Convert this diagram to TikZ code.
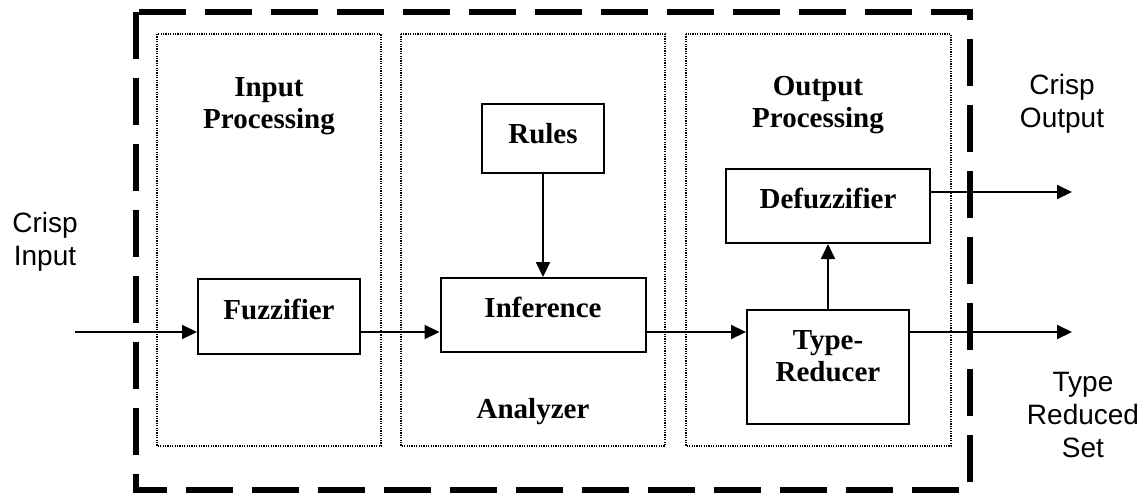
\documentclass[tikz,border=0pt]{standalone}
\usepackage{fontspec}
\setmainfont{Liberation Serif}
\newfontfamily\arialfont{Liberation Sans}
\usetikzlibrary{arrows.meta}
\begin{document}
\begin{tikzpicture}[x=1pt, y=-1pt]
        % Define styles for shapes
        \tikzstyle{block} = [draw, line width=2pt, inner sep=0pt, anchor=north, font=\bfseries\fontsize{29pt}{32pt}\selectfont, text height=39pt, text depth=35pt]
        \tikzstyle{stage} = [draw, line width=1.3pt, dash pattern=on 1.2pt off 1.2pt]
        \tikzstyle{heading} = [anchor=base, align=center, font=\bfseries\fontsize{29pt}{32pt}\selectfont]
        \tikzstyle{iolabel} = [anchor=base, align=center, font=\arialfont\fontsize{28pt}{33pt}\selectfont]
        \tikzstyle{flow} = [line width=2pt, -{Triangle[length=15pt, width=14pt]}]

        \useasboundingbox (0,0) rectangle (1148,493);

        % Outer frame
        \draw[line width=5.5pt, dash pattern=on 47pt off 19pt] (136,12) rectangle (970,490);

        % Processing stages
        \draw[stage] (157,34) rectangle (381,446);
        \draw[stage] (401,34) rectangle (665,446);
        \draw[stage] (686,34) rectangle (951,446);

        % Draw shapes
        \node[block, minimum width=162pt, text height=40pt] (fuzz) at (279,278) {Fuzzifier};
        \node[block, minimum width=122pt, text depth=30pt] (rules) at (543,103) {Rules};
        \node[block, minimum width=205pt] (infer) at (543,277) {Inference};
        \node[block, minimum width=204pt] (defuzz) at (828,168) {Defuzzifier};
        \node[block, minimum width=162pt, align=center, text height=71pt, text depth=43pt] (reducer) at (828,309) {Type-\\Reducer};

        % Labels (base = last line)
        \node[heading] (inlabel) at (269,128) {Input\\Processing};
        \node[heading] (analyzer) at (533,418) {Analyzer};
        \node[heading] (outlabel) at (818,127) {Output\\Processing};
        \node[iolabel] (crispin) at (45,265) {Crisp\\Input};
        \node[iolabel] (crispout) at (1062,127) {Crisp\\Output};
        \node[iolabel] (reduced) at (1083,457) {Type\\Reduced\\Set};

        % Connectors
        \coordinate (src) at (75,332);
        \coordinate (yout) at (1072,192);
        \coordinate (trout) at (1072,332);
        \draw[flow] (src) -- (src -| fuzz.west);
        \draw[flow] (fuzz.east |- src) -- (infer.west |- src);
        \draw[flow] (rules.south) -- (infer.north);
        \draw[flow] (infer.east |- src) -- (reducer.west |- src);
        \draw[flow] (reducer.north) -- (defuzz.south);
        \draw[flow] (defuzz.east |- yout) -- (yout);
        \draw[flow] (reducer.east |- src) -- (trout);
\end{tikzpicture}
\end{document}
